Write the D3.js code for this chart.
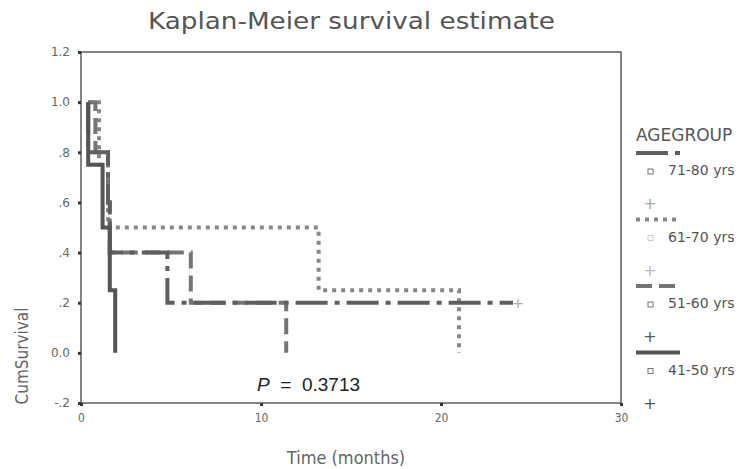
<!DOCTYPE html>
<html>
<head>
<meta charset="utf-8">
<script src="https://cdn.jsdelivr.net/npm/d3@7"></script>
<style>
  body { margin: 0; background: #fff; }
  svg { display: block; }
</style>
</head>
<body>
<div id="chart"></div>
<script>
'use strict'

// data
const ageGroups = ['71-80 yrs', '61-70 yrs', '51-60 yrs', '41-50 yrs'];

const times7180 = [0.4, 0.4, 1.5, 1.6, 4.8, 24];
const surv7180  = [1.0, 0.8, 0.6, 0.4, 0.2, 0.2];
const censor7180 = [24];

const times6170 = [0.4, 1.0, 1.5, 13.2, 21];
const surv6170  = [1.0, 0.75, 0.5, 0.25, 0];
const censor6170 = [];

const times5160 = [0.4, 0.8, 1.5, 1.6, 6.1, 11.4];
const surv5160  = [1.0, 0.8, 0.6, 0.4, 0.2, 0];
const censor5160 = [];

const times4150 = [0.4, 0.4, 1.2, 1.6, 1.9];
const surv4150  = [1.0, 0.75, 0.5, 0.25, 0];
const censor4150 = [];

const xTicks = [0, 10, 20, 30];
const yTicks = [1.2, 1.0, 0.8, 0.6, 0.4, 0.2, 0.0, -0.2];
const yTickLabels = ['1.2', '1.0', '.8', '.6', '.4', '.2', '0.0', '-.2'];
const pValue = '0.3713';

const width = 738, height = 469;
const margin = {left: 81, top: 52, right: 117, bottom: 66};

const styles = [
  {color: '#5f5f5f', dash: '32,7,5,7', plus: '#aaa'},
  {color: '#878787', dash: '4,5', plus: '#bbb'},
  {color: '#747474', dash: '16,7', plus: '#555'},
  {color: '#555555', dash: null, plus: '#555'}
];

const series = [
  {name: ageGroups[0], t: times7180, s: surv7180, c: censor7180},
  {name: ageGroups[1], t: times6170, s: surv6170, c: censor6170},
  {name: ageGroups[2], t: times5160, s: surv5160, c: censor5160},
  {name: ageGroups[3], t: times4150, s: surv4150, c: censor4150}
];

const svg = d3.select('#chart').append('svg')
  .attr('width', width)
  .attr('height', height);

const x = d3.scaleLinear().domain([0, 30]).range([margin.left, width - margin.right]);
const y = d3.scaleLinear().domain([-0.2, 1.2]).range([height - margin.bottom, margin.top]);

// title
svg.append('text')
  .attr('x', 148).attr('y', 29)
  .attr('textLength', 407)
  .attr('lengthAdjust', 'spacingAndGlyphs')
  .style('font-family', 'DejaVu Sans')
  .style('font-size', '23px')
  .style('fill', '#555')
  .text('Kaplan-Meier survival estimate');

// frame
svg.append('rect')
  .attr('x', x(0)).attr('y', y(1.2))
  .attr('width', x(30) - x(0)).attr('height', y(-0.2) - y(1.2))
  .attr('fill', 'none').attr('stroke', '#444').attr('stroke-width', 1.3);

// axes
const yAxis = d3.axisLeft(y).tickValues(yTicks)
  .tickFormat((d, i) => yTickLabels[i]).tickSize(3).tickPadding(8);
const xAxis = d3.axisBottom(x).tickValues(xTicks).tickSize(3).tickPadding(7);

const gy = svg.append('g').attr('transform', `translate(${x(0)},0)`).call(yAxis);
const gx = svg.append('g').attr('transform', `translate(0,${y(-0.2)})`).call(xAxis);
[gx, gy].forEach(g => {
  g.select('.domain').remove();
  g.selectAll('line').attr('stroke', '#333').attr('stroke-width', 3);
  g.selectAll('text')
    .style('font-family', 'DejaVu Sans')
    .style('font-size', '12px')
    .style('fill', '#666');
});
gx.selectAll('text').style('font-family', 'DejaVu Sans Condensed');

// axis titles
svg.append('text')
  .attr('transform', 'translate(28,356) rotate(-90)')
  .attr('text-anchor', 'middle')
  .style('font-family', 'DejaVu Sans Condensed')
  .style('font-size', '17px')
  .style('fill', '#666')
  .text('CumSurvival');

svg.append('text')
  .attr('x', 346).attr('y', 464)
  .attr('text-anchor', 'middle')
  .style('font-family', 'DejaVu Sans Condensed')
  .style('font-size', '18px')
  .style('fill', '#666')
  .text('Time (months)');

// curves
const line = d3.line()
  .x(d => x(d[0]))
  .y(d => y(d[1]))
  .curve(d3.curveStepAfter);

const order = [1, 2, 0, 3];
order.forEach(i => {
  const sr = series[i];
  const pts = sr.t.map((t, k) => [t, sr.s[k]]);
  svg.append('path')
    .datum(pts)
    .attr('d', line)
    .attr('fill', 'none')
    .attr('stroke', styles[i].color)
    .attr('stroke-width', 4)
    .attr('stroke-dasharray', styles[i].dash);

  svg.selectAll(null).data(sr.c).enter()
    .append('text')
    .attr('x', d => x(d) + 5)
    .attr('y', d => y(sr.s[sr.s.length - 1]) + 5)
    .attr('text-anchor', 'middle')
    .style('font-family', 'DejaVu Sans')
    .style('font-size', '14px')
    .style('fill', styles[i].plus)
    .text('+');
});

// p value
const pt = svg.append('text')
  .attr('x', 257).attr('y', 391)
  .style('font-family', 'Liberation Sans')
  .style('font-size', '19px')
  .style('white-space', 'pre')
  .style('fill', '#222');
pt.append('tspan').style('font-style', 'italic').text('P');
pt.append('tspan').text('  =  ' + pValue);

// legend
const legend = svg.append('g').attr('transform', 'translate(636,0)');
legend.append('text')
  .attr('x', 0).attr('y', 141)
  .style('font-family', 'DejaVu Sans')
  .style('font-size', '17px')
  .style('fill', '#555')
  .text('AGEGROUP');

const item = legend.selectAll('g.item').data(series).enter()
  .append('g')
  .attr('class', 'item')
  .attr('transform', (d, i) => `translate(0,${153 + i * 66.5})`);

item.append('line')
  .attr('x1', 0).attr('x2', 44)
  .attr('stroke', (d, i) => styles[i].color)
  .attr('stroke-width', 4)
  .attr('stroke-dasharray', (d, i) => styles[i].dash);

item.append('rect')
  .attr('x', 12).attr('y', 16)
  .attr('width', 5).attr('height', 5)
  .attr('fill', 'none')
  .attr('stroke', (d, i) => i === 1 ? '#ccc' : '#777')
  .attr('stroke-width', 1);

item.append('text')
  .attr('x', 32).attr('y', 22)
  .style('font-family', 'DejaVu Sans')
  .style('font-size', '14px')
  .style('fill', '#555')
  .text(d => d.name);

item.append('text')
  .attr('x', 14).attr('y', 56)
  .attr('text-anchor', 'middle')
  .style('font-family', 'DejaVu Sans')
  .style('font-size', '16px')
  .style('fill', (d, i) => styles[i].plus)
  .text('+');
</script>
</body>
</html>
